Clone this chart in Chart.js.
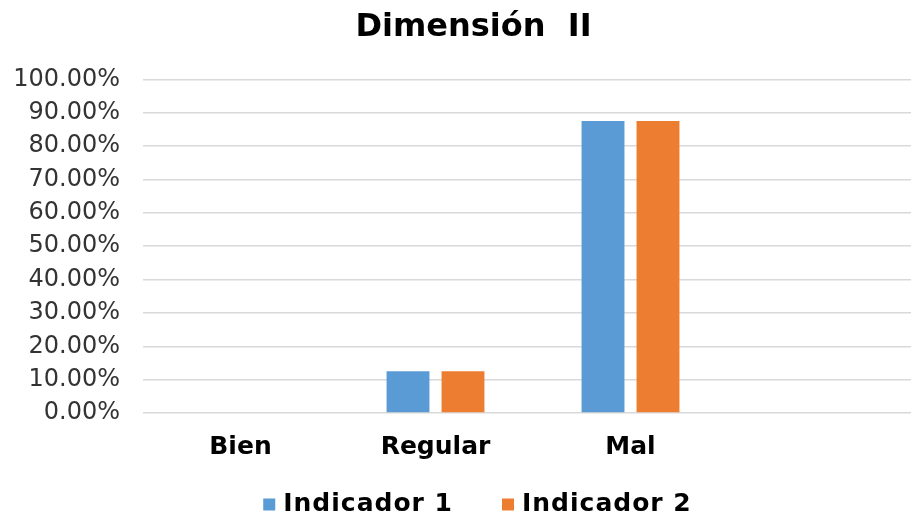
<!DOCTYPE html>
<html>
<head>
<meta charset="utf-8">
<script src="https://cdn.jsdelivr.net/npm/chart.js@4/dist/chart.umd.min.js"></script>
<style>
  html, body { margin: 0; padding: 0; background: #fff; overflow: hidden; }
  #wrap { width: 911px; height: 514px; overflow: hidden; }
  canvas { display: block; }
</style>
</head>
<body>
<div id="wrap"><canvas id="c" width="946" height="514"></canvas></div>
<script>
// Categories (the last one is an empty slot in the source table)
const categories = ['Bien', 'Regular', 'Mal', ''];
// Percentages per indicator
const indicador1 = [0, 12.5, 87.5, null];
const indicador2 = [0, 12.5, 87.5, null];
const seriesNames = ['Indicador 1', 'Indicador 2'];
const seriesColors = ['#5B9BD5', '#ED7D31'];
const chartTitle = 'Dimensión  II';

const FONT = "'DejaVu Sans', Verdana, sans-serif";

// Nudges the title a little to the right of the full-width centre
const titleShift = {
  id: 'titleShift',
  afterLayout(chart) {
    if (chart.titleBlock) {
      chart.titleBlock.left += 7;
      chart.titleBlock.right += 7;
    }
  }
};

// Bottom legend with square swatches, drawn from the dataset list
const bottomLegend = {
  id: 'bottomLegend',
  afterDraw(chart) {
    const ctx = chart.ctx;
    const sets = chart.data.datasets;
    const box = 12, boxGap = 8, itemGap = 49, cy = 504.5;
    ctx.save();
    ctx.font = "bold 25px " + FONT;
    if ('letterSpacing' in ctx) ctx.letterSpacing = '1px';
    ctx.textBaseline = 'middle';
    ctx.textAlign = 'left';
    const widths = sets.map(d => ctx.measureText(d.label).width);
    const total = widths.reduce((s, w) => s + box + boxGap + w, 0) + itemGap * (sets.length - 1);
    const tb = chart.titleBlock;
    const center = tb ? (tb.left + tb.right) / 2 + 4 : chart.width / 2;
    let x = center - total / 2;
    sets.forEach((d, i) => {
      ctx.fillStyle = d.backgroundColor;
      ctx.fillRect(x, cy - box / 2, box, box);
      x += box + boxGap;
      ctx.fillStyle = '#000';
      ctx.fillText(d.label, x, cy);
      x += widths[i] + itemGap;
    });
    ctx.restore();
  }
};

new Chart(document.getElementById('c'), {
  type: 'bar',
  data: {
    labels: categories,
    datasets: [
      { label: seriesNames[0], data: indicador1, backgroundColor: seriesColors[0],
        categoryPercentage: 0.564, barPercentage: 0.78 },
      { label: seriesNames[1], data: indicador2, backgroundColor: seriesColors[1],
        categoryPercentage: 0.564, barPercentage: 0.78 }
    ]
  },
  plugins: [titleShift, bottomLegend],
  options: {
    responsive: false,
    animation: false,
    layout: { padding: { left: 10, right: 23, top: 8, bottom: 52 } },
    plugins: {
      title: {
        display: true,
        text: chartTitle,
        color: '#000',
        font: { family: FONT, size: 32, weight: 'bold', lineHeight: 1.2 },
        padding: { top: 0, bottom: 33 }
      },
      legend: { display: false },
      tooltip: { enabled: false }
    },
    scales: {
      x: {
        grid: { display: false, drawTicks: false },
        border: { display: false },
        ticks: {
          color: '#000',
          padding: 19,
          font: { family: FONT, size: 25, weight: 'bold', lineHeight: 1.2 }
        },
        afterFit(axis) { axis.height = 49; }
      },
      y: {
        min: 0,
        max: 100,
        border: { display: false },
        grid: { color: '#D9D9D9', lineWidth: 1.5, drawTicks: false },
        ticks: {
          stepSize: 10,
          autoSkip: false,
          color: '#333',
          padding: 23,
          font: { family: FONT, size: 24 },
          callback: v => v.toFixed(2) + '%'
        },
        afterFit(axis) { axis.width = 133; }
      }
    }
  }
});
</script>
</body>
</html>
